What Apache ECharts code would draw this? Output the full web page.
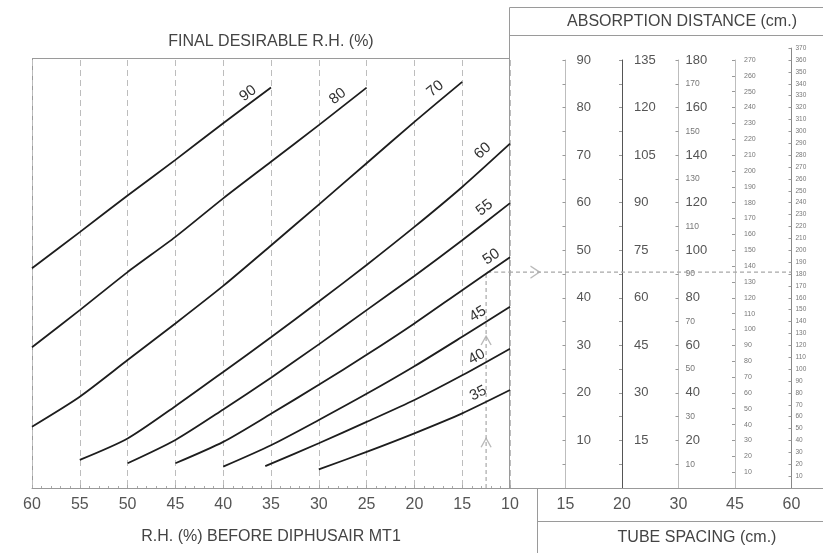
<!DOCTYPE html>
<html>
<head>
<meta charset="utf-8">
<script src="https://cdn.jsdelivr.net/npm/echarts@6/dist/echarts.min.js"></script>
<style>
  html, body { margin: 0; padding: 0; background: #fff; }
  #chart { width: 823px; height: 553px; }
</style>
</head>
<body>
<div id="chart"></div>
<script>
// Curves of final desirable R.H. (%): [R.H. before DIPHUSAIR MT1 (%), absorption distance on the 15 cm scale]
const CURVE_90 = [[60, 46.2], [55, 53.8], [50, 61.5], [45, 69.0], [40, 76.7], [35, 84.2]];
const CURVE_80 = [[60, 29.6], [55, 37.4], [50, 45.4], [45, 52.8], [40, 60.9], [35, 68.6], [30, 76.3], [25, 84.2]];
const CURVE_70 = [[60, 12.9], [55, 19.2], [50, 26.9], [45, 34.6], [40, 42.5], [35, 51.0], [30, 59.6], [25, 68.3], [20, 77.0], [15, 85.4]];
const CURVE_60 = [[55, 5.9], [50, 10.4], [45, 17.2], [40, 24.4], [35, 31.7], [30, 39.2], [25, 46.9], [20, 54.9], [15, 63.3], [10, 72.4]];
const CURVE_55 = [[50, 5.2], [45, 10.1], [40, 16.5], [35, 23.2], [30, 30.2], [25, 37.4], [20, 44.6], [15, 52.1], [10, 59.9]];
const CURVE_50 = [[45, 5.2], [40, 9.7], [35, 15.6], [30, 21.7], [25, 28.0], [20, 34.6], [15, 41.6], [10, 48.5]];
const CURVE_45 = [[40, 4.5], [35, 9.0], [30, 14.3], [25, 19.8], [20, 25.6], [15, 31.8], [10, 38.1]];
const CURVE_40 = [[35.6, 4.6], [30, 9.4], [25, 13.9], [20, 18.5], [15, 23.7], [10, 29.3]];
const CURVE_35 = [[30, 3.9], [25, 7.6], [20, 11.5], [15, 15.7], [10, 20.6]];

const FINAL_RH = ['90', '80', '70', '60', '55', '50', '45', '40', '35'];
const CURVES = [CURVE_90, CURVE_80, CURVE_70, CURVE_60, CURVE_55, CURVE_50, CURVE_45, CURVE_40, CURVE_35];

// Tube spacing (cm) and the top of each absorption-distance scale (cm)
const TUBE_SPACING = ['15', '20', '30', '45', '60'];
const SCALE_MAX = [90, 135, 180, 270, 370];
const SCALE_STEP = [5, 7.5, 10, 10, 10];

// Worked example: 12.5 % before, 50 % final
const GUIDE_RH = 12.5;
const GUIDE_ABS = 45.4;
const GUIDE_ARROWS = [9.5, 31];

// ---- layout ----
const FONT = '"Liberation Sans", Arial, Helvetica, sans-serif';
const PLOT_L = 32, PLOT_R = 510, PLOT_T = 60, PLOT_B = 488;
const PLOT_W = PLOT_R - PLOT_L, PLOT_H = PLOT_B - PLOT_T;
const PANEL_L = 509, BAND = 56.5;
const X_MIN = 10, X_MAX = 60, Y_MAX = 90;
const pxPerX = PLOT_W / (X_MAX - X_MIN);
const pxPerY = PLOT_H / Y_MAX;

// label placement along each curve end: [along the curve, across it]
const LABEL_SHIFT = {
  '90': [-22, -9], '80': [-28, -11], '70': [-25, -12], '60': [-25, -13], '55': [-23, -12],
  '50': [-15, -11], '45': [-31, -11], '40': [-33, -9], '35': [-30, -11]
};

function curveData(points, name) {
  const n = points.length;
  const a = points[n - 2], b = points[n - 1];
  const ang = Math.atan2((b[1] - a[1]) * pxPerY, (a[0] - b[0]) * pxPerX) * 180 / Math.PI;
  return points.map((p, j) => j < n - 1 ? p : {
    value: p,
    symbol: 'circle',
    symbolSize: 0.01,
    label: {
      show: true, formatter: name, position: 'inside', rotate: ang,
      offset: LABEL_SHIFT[name], fontSize: 15, color: '#333', fontFamily: FONT
    }
  });
}

const chart = echarts.init(document.getElementById('chart'), null, { renderer: 'canvas' });

const scaleColors = ['#bdbdbd', '#555', '#bdbdbd', '#bdbdbd', '#888'];
const scaleMargin = [11, 12, 7, 9, 4];

function scaleLabel(i) {
  if (i === 0) return { fontSize: 13, color: '#555', formatter: v => (v > 0 && v % 10 === 0) ? v : '' };
  if (i === 1) return { fontSize: 13, color: '#555', formatter: v => (v > 0 && v % 15 === 0) ? v : '' };
  if (i === 2) return {
    formatter: v => v <= 0 ? '' : (v % 20 === 0 ? '{b|' + v + '}' : '{s|' + v + '}'),
    rich: { b: { fontSize: 13, color: '#555', fontFamily: FONT }, s: { fontSize: 8.5, color: '#777', fontFamily: FONT } }
  };
  return { fontSize: i === 3 ? 7 : 6.5, color: '#777', formatter: v => v > 0 ? v : '' };
}

const yAxes = [
  { gridIndex: 0, type: 'value', min: 0, max: Y_MAX, show: false }
];
for (let i = 0; i < 5; i++) {
  const isLast = i === 4;
  const lab = scaleLabel(i);
  yAxes.push({
    gridIndex: isLast ? 2 : 0,
    type: 'value',
    position: 'right',
    offset: PANEL_L + (i + 1) * BAND - PLOT_R,
    min: 0,
    max: SCALE_MAX[i],
    interval: SCALE_STEP[i],
    axisLine: { show: true, onZero: false, lineStyle: { color: scaleColors[i], width: 1 } },
    axisTick: { show: true, inside: true, length: 3, lineStyle: { color: '#999' } },
    splitLine: { show: false },
    axisLabel: Object.assign({ margin: scaleMargin[i], fontFamily: FONT, showMinLabel: false }, lab)
  });
}
yAxes.push({ gridIndex: 1, type: 'value', min: 0, max: Y_MAX, show: false });

const series = CURVES.map((pts, k) => ({
  type: 'line',
  name: FINAL_RH[k],
  xAxisIndex: 0, yAxisIndex: 0,
  data: curveData(pts, FINAL_RH[k]),
  smooth: 0.25,
  symbol: 'none',
  showSymbol: true,
  silent: true,
  z: 4,
  lineStyle: { color: '#1d1d1d', width: 1.8 }
}));

const guideStyle = { color: '#a8a8a8', width: 1.2, type: [4, 3] };
const chevron = 'path://M0,10 L5,0 L10,10';
series.push(
  {
    type: 'line', xAxisIndex: 0, yAxisIndex: 0, silent: true, symbol: 'none', z: 2,
    data: [[GUIDE_RH, 0], [GUIDE_RH, GUIDE_ABS], [X_MIN, GUIDE_ABS]],
    lineStyle: guideStyle
  },
  {
    type: 'scatter', xAxisIndex: 0, yAxisIndex: 0, silent: true, z: 2,
    data: GUIDE_ARROWS.map(v => [GUIDE_RH, v]),
    symbol: chevron, symbolSize: [10, 9],
    itemStyle: { color: 'rgba(0,0,0,0)', borderColor: '#a8a8a8', borderWidth: 1.3 }
  },
  {
    type: 'line', xAxisIndex: 1, yAxisIndex: 6, silent: true, symbol: 'none', z: 2,
    data: [[0, GUIDE_ABS], [TUBE_SPACING.length, GUIDE_ABS]],
    lineStyle: guideStyle
  },
  {
    type: 'scatter', xAxisIndex: 1, yAxisIndex: 6, silent: true, z: 2,
    data: [[0, GUIDE_ABS]],
    symbol: chevron, symbolSize: [12, 9], symbolRotate: -90, symbolOffset: [26, 0],
    itemStyle: { color: 'rgba(0,0,0,0)', borderColor: '#a8a8a8', borderWidth: 1.3 }
  }
);

const frame = { stroke: '#9a9a9a', lineWidth: 1, fill: 'none' };
const option = {
  animation: false,
  backgroundColor: '#fff',
  textStyle: { fontFamily: FONT },
  grid: [
    { left: PLOT_L, top: PLOT_T, width: PLOT_W, height: PLOT_H, containLabel: false, outerBoundsMode: 'none' },
    { left: PANEL_L, top: PLOT_T, width: BAND * (TUBE_SPACING.length + 1), height: PLOT_H, containLabel: false, outerBoundsMode: 'none' },
    { left: PLOT_L, top: PLOT_B - PLOT_H * SCALE_MAX[4] / (4 * Y_MAX), width: PLOT_W,
      height: PLOT_H * SCALE_MAX[4] / (4 * Y_MAX), containLabel: false, outerBoundsMode: 'none' }
  ],
  xAxis: [
    {
      gridIndex: 0, type: 'value', min: X_MIN, max: X_MAX, interval: 5, inverse: true,
      axisLine: { show: true, onZero: false, lineStyle: { color: '#999', width: 1 } },
      axisTick: { show: true, inside: true, length: 3, lineStyle: { color: '#aaa' } },
      minorTick: { show: true, splitNumber: 5, length: 2, lineStyle: { color: '#aaa' } },
      splitLine: { show: true, lineStyle: { color: '#bdbdbd', width: 1, type: [6, 4] } },
      axisLabel: { fontSize: 16, color: '#555', margin: 9, fontFamily: FONT }
    },
    {
      gridIndex: 1, type: 'category', boundaryGap: false,
      data: [''].concat(TUBE_SPACING, ['']),
      axisLine: { show: true, onZero: false, lineStyle: { color: '#999', width: 1 } },
      axisTick: { show: false },
      splitLine: { show: false },
      axisLabel: { fontSize: 16, color: '#555', margin: 9, fontFamily: FONT, interval: 0 }
    },
    { gridIndex: 2, type: 'value', min: 1, max: 2, show: false }
  ],
  yAxis: yAxes,
  series: series,
  graphic: [
    { type: 'line', silent: true, shape: { x1: PLOT_L, y1: 58.5, x2: PLOT_R, y2: 58.5 }, style: frame },
    { type: 'line', silent: true, shape: { x1: PLOT_L + 0.5, y1: 58.5, x2: PLOT_L + 0.5, y2: PLOT_B }, style: frame },
    { type: 'rect', silent: true, shape: { x: PANEL_L + 0.5, y: 7.5, width: 400, height: PLOT_B - 7 }, style: frame },
    { type: 'line', silent: true, shape: { x1: PANEL_L, y1: 35.5, x2: 823, y2: 35.5 }, style: frame },
    { type: 'line', silent: true, shape: { x1: 537.5, y1: PLOT_B, x2: 537.5, y2: 553 }, style: frame },
    { type: 'line', silent: true, shape: { x1: 537, y1: 521.5, x2: 823, y2: 521.5 }, style: frame },
    { type: 'text', silent: true, x: (PLOT_L + PLOT_R) / 2, y: 42,
      style: { text: 'FINAL DESIRABLE R.H. (%)', fontSize: 16, fontFamily: FONT, fill: '#444', align: 'center', verticalAlign: 'middle' } },
    { type: 'text', silent: true, x: (PLOT_L + PLOT_R) / 2, y: 537,
      style: { text: 'R.H. (%) BEFORE DIPHUSAIR MT1', fontSize: 16, fontFamily: FONT, fill: '#444', align: 'center', verticalAlign: 'middle' } },
    { type: 'text', silent: true, x: 682, y: 22,
      style: { text: 'ABSORPTION DISTANCE (cm.)', fontSize: 16, fontFamily: FONT, fill: '#444', align: 'center', verticalAlign: 'middle' } },
    { type: 'text', silent: true, x: 697, y: 538,
      style: { text: 'TUBE SPACING (cm.)', fontSize: 16, fontFamily: FONT, fill: '#444', align: 'center', verticalAlign: 'middle' } }
  ]
};

chart.setOption(option);
</script>
</body>
</html>
